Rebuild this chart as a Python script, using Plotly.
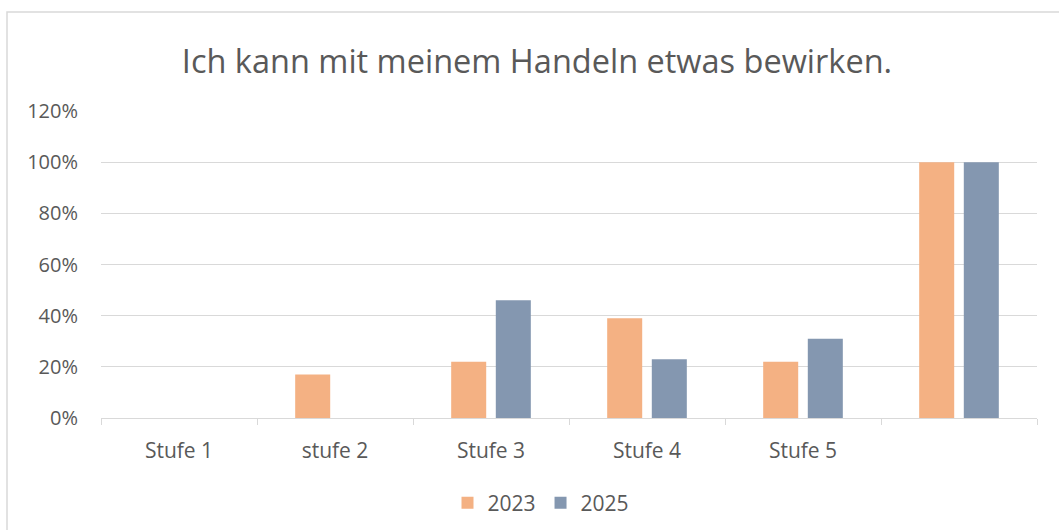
import plotly.graph_objects as go

categories = ["Stufe 1", "stufe 2", "Stufe 3", "Stufe 4", "Stufe 5", " "]
series_names = ["2023", "2025"]
values_2023 = [0, 0.17, 0.22, 0.39, 0.22, 1.00]
values_2025 = [0, 0, 0.46, 0.23, 0.31, 1.00]
colors = ["#F4B183", "#8497B0"]
tick_vals = [0, 0.2, 0.4, 0.6, 0.8, 1.0, 1.2]
tick_text = ["0%", "20%", "40%", "60%", "80%", "100%", "120%"]

FONT = "Open Sans"
GREY = "#595959"

W, H = 1059, 530
L, T = 101, 111
R = 1059 - 1037
B = H - 418
PW, PH = W - L - R, 418 - T

fig = go.Figure()
for name, vals, col in zip(series_names, [values_2023, values_2025], colors):
    fig.add_trace(go.Bar(x=categories, y=vals, name=name, marker=dict(color=col, line=dict(width=0))))

fig.update_layout(
    width=W, height=H,
    margin=dict(l=L, r=R, t=T, b=B, autoexpand=False),
    paper_bgcolor="white", plot_bgcolor="white",
    barmode="group", bargap=0.428, bargroupgap=0.215,
    title=dict(text="Ich kann mit meinem Handeln etwas bewirken.", x=537 / W, xanchor="center",
               y=1 - 62 / H, yanchor="middle",
               font=dict(family=FONT, size=32.5, color=GREY)),
    font=dict(family=FONT, size=20, color=GREY),
    showlegend=True,
    legend=dict(orientation="h", x=(541 - L) / PW, xanchor="center", y=-(503 - 418) / PH, yanchor="middle",
                font=dict(family=FONT, size=21, color=GREY), traceorder="normal"),
    xaxis=dict(type="category", showgrid=False, showline=True, linecolor="#d9d9d9", linewidth=1,
               ticks="outside", tickson="boundaries", ticklen=6, tickcolor="#d9d9d9",
               ticklabelstandoff=14,
               tickfont=dict(family=FONT, size=21, color=GREY), fixedrange=True),
    yaxis=dict(range=[0, 1.2], tickvals=tick_vals, ticktext=tick_text, showgrid=True,
               gridcolor="#d9d9d9", gridwidth=1, zeroline=False, showline=False,
               ticklabelstandoff=22, tickfont=dict(family=FONT, size=20, color=GREY)),
    shapes=[dict(type="rect", xref="paper", yref="paper", x0=(7 - L) / PW, x1=1.1,
                 y0=-0.5, y1=(418 - 12) / PH, line=dict(color="#d9d9d9", width=1.5),
                 fillcolor="rgba(0,0,0,0)", layer="below")],
)

fig.write_html("out.html", config={"displayModeBar": False},
               post_script="document.body.style.margin='0px';document.body.style.overflow='hidden';")
